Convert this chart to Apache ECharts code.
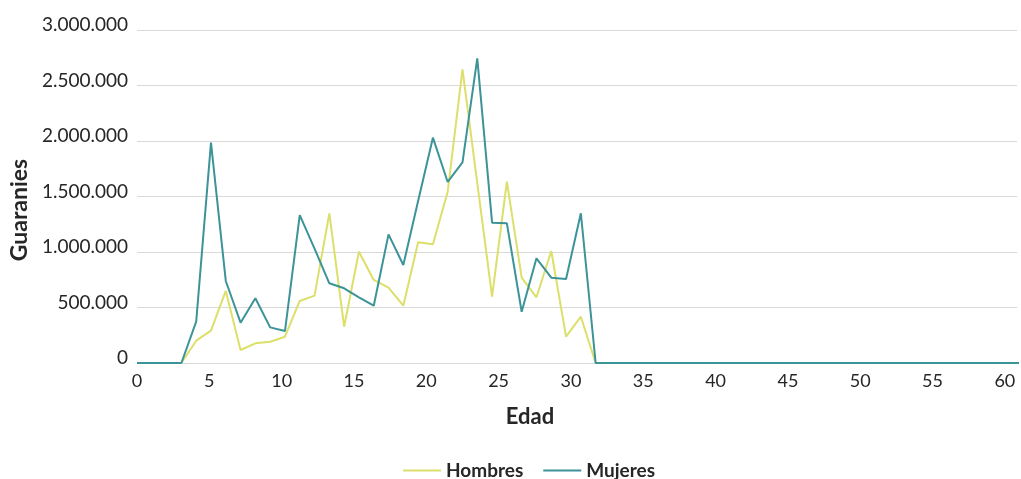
<!DOCTYPE html>
<html>
<head>
<meta charset="utf-8">
<script src="https://cdn.jsdelivr.net/npm/echarts@6/dist/echarts.min.js"></script>
<style>
  html, body { margin: 0; padding: 0; background: #ffffff; }
  #chart { width: 1021px; height: 479px; }
</style>
</head>
<body>
<div id="chart"></div>
<script>
// Ages (Edad)
const edades = [0,1,2,3,4,5,6,7,8,9,10,11,12,13,14,15,16,17,18,19,20,21,22,23,24,25,26,27,28,29,30,
  31,32,33,34,35,36,37,38,39,40,41,42,43,44,45,46,47,48,49,50,51,52,53,54,55,56,57,58,59,60];

// Hombres (Guaranies)
const hombres = [0,0,0,0,201000,291000,649000,117000,177000,192000,237000,559000,607000,1348000,327000,
  1003000,748000,679000,516000,1087000,1069000,1543000,2646000,1620000,598000,1634000,769000,592000,1009000,237000,417000,
  0,0,0,0,0,0,0,0,0,0,0,0,0,0,0,0,0,0,0,0,0,0,0,0,0,0,0,0,0,0];

// Mujeres (Guaranies)
const mujeres = [0,0,0,0,372000,1985000,739000,363000,583000,321000,288000,1333000,1030000,718000,673000,
  592000,516000,1159000,883000,1460000,2030000,1631000,1808000,2745000,1264000,1258000,462000,943000,769000,757000,1349000,
  0,0,0,0,0,0,0,0,0,0,0,0,0,0,0,0,0,0,0,0,0,0,0,0,0,0,0,0,0,0];

const serieNames = ['Hombres', 'Mujeres'];
const xTickStep = 5;
const yTickStep = 500000;
const yMax = 3000000;

const fmtMiles = v => String(v).replace(/\B(?=(\d{3})+(?!\d))/g, '.');
const FONT = 'Lato, "Noto Sans", sans-serif';
const TEXT = '#262626';

const chart = echarts.init(document.getElementById('chart'), null, { renderer: 'canvas' });
chart.setOption({
  animation: false,
  backgroundColor: '#ffffff',
  textStyle: { fontFamily: FONT },
  color: ['#DCDF6A', '#3C9398'],
  grid: { left: 137, right: 4, top: 30, bottom: 116, containLabel: false },
  legend: {
    data: serieNames,
    left: 403,
    top: 461,
    padding: 0,
    icon: 'rect',
    itemWidth: 38,
    itemHeight: 2,
    itemGap: 20,
    textStyle: { fontFamily: FONT, fontSize: 19, fontWeight: 'bold', color: TEXT }
  },
  xAxis: [
    {
      type: 'value',
      min: 0,
      max: 59.48,
      show: false
    },
    {
      type: 'value',
      position: 'bottom',
      min: 0,
      max: 60.84,
      interval: xTickStep,
      name: 'Edad',
      nameLocation: 'middle',
      nameGap: 43,
      nameTextStyle: { fontFamily: FONT, fontSize: 22, fontWeight: 'bold', color: TEXT, padding: [0, 94, 0, 0] },
      axisLine: { show: false },
      axisTick: { show: false },
      splitLine: { show: false },
      axisLabel: {
        margin: 9,
        fontSize: 18,
        color: TEXT,
        fontFamily: FONT,
        formatter: v => (v % xTickStep === 0 ? String(v) : '')
      }
    }
  ],
  yAxis: {
    type: 'value',
    min: 0,
    max: yMax,
    interval: yTickStep,
    name: 'Guaranies',
    nameLocation: 'middle',
    nameRotate: 90,
    nameGap: 101,
    nameTextStyle: { fontFamily: FONT, fontSize: 23, fontWeight: 'bold', color: TEXT, padding: [0, 27, 0, 0] },
    axisLine: { show: false },
    axisTick: { show: false },
    splitLine: { show: true, lineStyle: { color: '#d9d9d9', width: 1 } },
    axisLabel: {
      margin: 9,
      fontSize: 19,
      color: TEXT,
      fontFamily: FONT,
      verticalAlign: 'bottom',
      lineHeight: 10,
      formatter: v => fmtMiles(v)
    }
  },
  series: [
    {
      name: serieNames[0],
      type: 'line',
      xAxisIndex: 0,
      data: edades.map((a, i) => [a, hombres[i]]),
      symbol: 'none',
      lineStyle: { width: 2, color: '#DCDF6A' },
      itemStyle: { color: '#DCDF6A' }
    },
    {
      name: serieNames[1],
      type: 'line',
      xAxisIndex: 0,
      data: edades.map((a, i) => [a, mujeres[i]]),
      symbol: 'none',
      lineStyle: { width: 2, color: '#3C9398' },
      itemStyle: { color: '#3C9398' }
    }
  ]
});
</script>
</body>
</html>
